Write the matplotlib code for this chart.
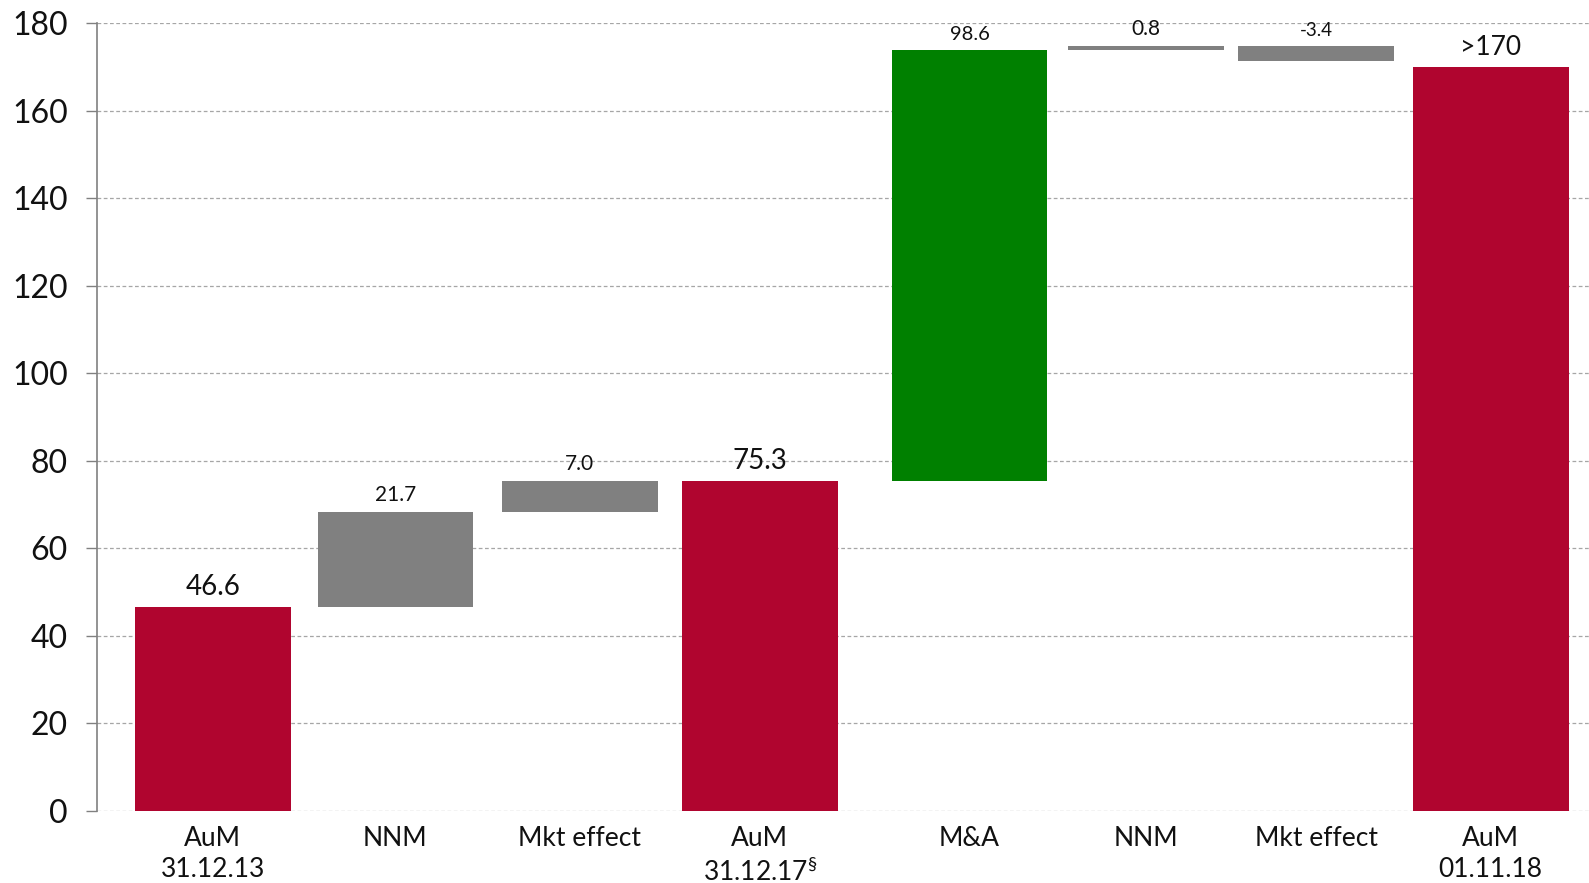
import matplotlib
matplotlib.use("Agg")
import matplotlib.pyplot as plt

plt.rcParams['font.family'] = ['Lato', 'DejaVu Sans']
plt.rcParams['mathtext.fontset'] = 'custom'
plt.rcParams['mathtext.rm'] = 'Lato'
plt.rcParams['mathtext.it'] = 'Lato'

# waterfall steps
categories = ["AuM\n31.12.13", "NNM", "Mkt effect", "AuM\n31.12.17$^{\\S}$", "M&A", "NNM", "Mkt effect", "AuM\n01.11.18"]
values = [46.6, 21.7, 7.0, 75.3, 98.6, 0.8, -3.4, 170]
is_total = [True, False, False, True, False, False, False, True]
value_labels = ["46.6", "21.7", "7.0", "75.3", "98.6", "0.8", "-3.4", ">170"]
y_ticks = [0, 20, 40, 60, 80, 100, 120, 140, 160, 180]

# layout / style
xpos = [0, 1.015, 2.04, 3.04, 4.205, 5.185, 6.13, 7.10]
bar_width = 0.865
label_sizes = [20, 15, 15, 20, 14.5, 15, 13.5, 19]
RED = "#B0052F"
GREEN = "#008000"
GREY = "#808080"

fig = plt.figure(figsize=(15.89, 8.83), dpi=100)
ax = fig.add_axes([0.061, 0.0815, 0.939, 0.8925])

bottoms, heights, colors = [], [], []
running = 0.0
for v, tot, cat in zip(values, is_total, categories):
    if tot:
        bottoms.append(0)
        heights.append(v)
        colors.append(RED)
        running = v
    else:
        if v >= 0:
            bottoms.append(running)
            heights.append(v)
        else:
            bottoms.append(running + v)
            heights.append(-v)
        colors.append(GREEN if cat == "M&A" else GREY)
        running += v

ax.bar(xpos, heights, bottom=bottoms, width=bar_width, color=colors, zorder=3)

for x, b, h, txt, fs in zip(xpos, bottoms, heights, value_labels, label_sizes):
    ax.annotate(txt, (x, b + h), xytext=(0, 5), textcoords="offset points",
                ha="center", va="bottom", fontsize=fs, color="#111111", zorder=4)

ax.set_ylim(0, 180)
ax.set_xlim(-0.643, 7.646)
ax.set_yticks(y_ticks)
ax.set_xticks(xpos)
ax.set_xticklabels(categories, fontsize=19, color="#111111", linespacing=1.3)
ax.tick_params(axis="x", length=0, pad=11)
ax.tick_params(axis="y", length=8, width=1, color=GREY, labelsize=23,
               labelcolor="#111111", pad=13)

ax.yaxis.grid(True, linestyle=(0, (3, 2)), color="#A6A6A6", linewidth=0.9, zorder=0)
for side in ["top", "right", "bottom"]:
    ax.spines[side].set_visible(False)
ax.spines["left"].set_color(GREY)
ax.spines["left"].set_linewidth(1.2)

fig.savefig("out.png", dpi=100)
